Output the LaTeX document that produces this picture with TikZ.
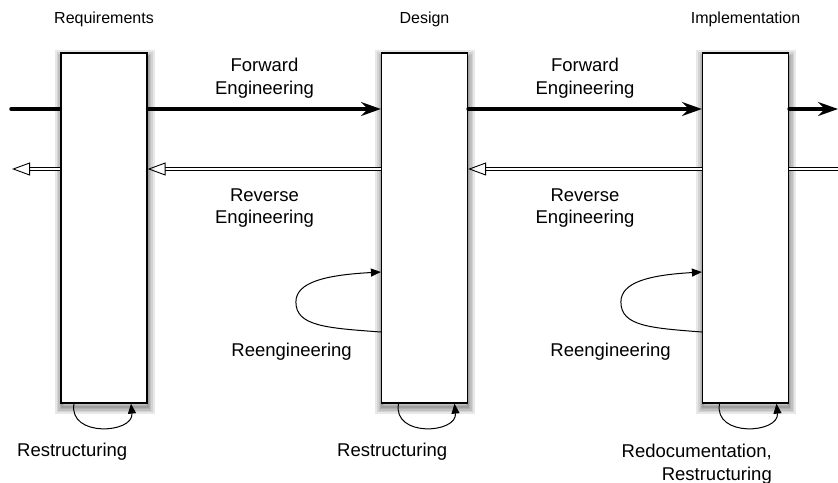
\documentclass[tikz,border=0pt]{standalone}
\usepackage{fontspec}
\setmainfont{Liberation Sans}
\usetikzlibrary{arrows.meta}

\begin{document}
\begin{tikzpicture}
	[x=1pt, y=-1pt,
	 every node/.style={inner sep=0pt,font=\fontsize{18.5}{22.7}\selectfont},
	 softshadow/.style={preaction={draw=black,line width=#1,opacity=0.09,transform canvas={xshift=0.5pt,yshift=-4pt}}},
	 phase/.style={draw,rectangle,fill=white,line width=1.2pt,minimum width=86pt,minimum height=350pt,
	   softshadow=14pt,softshadow=10pt,softshadow=7pt,softshadow=4pt,softshadow=2pt},
	 phasename/.style={anchor=base,font=\fontsize{16}{19}\selectfont},
	 fwdline/.style={line width=3.5pt,line cap=round,-{Stealth[length=20pt,width=14pt,inset=7pt]}},
	 revline/.style={double,line width=0.9pt,double distance=2.6pt,-{Triangle[open,length=18pt,width=13pt]}},
	 selfarc/.style={line width=1pt,-{Triangle[length=10pt,width=8pt]}} ]

\useasboundingbox (0,0) rectangle (838,482);

\node [phase] (req) at (104,228) {};
\node [phase] (des) at (424.5,228) {};
\node [phase] (imp) at (745.5,228) {};

\node [phasename] (reqname) at (104,23.3) {Requirements};
\node [phasename] (desname) at (424.5,23.3) {Design};
\node [phasename] (impname) at (745.5,23.3) {Implementation};

\coordinate (fwdin) at (11,109);
\coordinate (fwdout) at (838,109);
\coordinate (revin) at (838,169);
\coordinate (revout) at (12,169);

\draw[fwdline,-] (fwdin) -- ([yshift=119pt]req.west);
\draw[fwdline] ([yshift=119pt]req.east) -- ([yshift=119pt]des.west);
\draw[fwdline] ([yshift=119pt]des.east) -- ([yshift=119pt]imp.west);
\draw[fwdline] ([yshift=119pt]imp.east) -- (fwdout);

\draw[revline] ([yshift=59pt]req.west) -- (revout);
\draw[revline] ([yshift=59pt]des.west) -- ([yshift=59pt]req.east);
\draw[revline] ([yshift=59pt]imp.west) -- ([yshift=59pt]des.east);
\draw[revline,-] (revin) -- ([yshift=59pt]imp.east);

\node [align=center] (fwd1) at (264.5,78) {Forward\\Engineering};
\node [align=center] (rev1) at (264.5,208) {Reverse\\Engineering};
\node [align=center] (fwd2) at (585,78) {Forward\\Engineering};
\node [align=center] (rev2) at (585,208) {Reverse\\Engineering};

% loops back into the same phase
\draw[selfarc] ([yshift=-104pt]des.west) .. controls +(-55,-4) and +(0,24) .. ++(-85,-30)
  .. controls +(0,-20) and +(-55,3) .. ([yshift=-44pt]des.west);
\draw[selfarc] ([yshift=-104pt]imp.west) .. controls +(-52,-4) and +(0,24) .. ++(-81,-30)
  .. controls +(0,-20) and +(-52,3) .. ([yshift=-44pt]imp.west);
\node [anchor=base east] (reeng1) at (352,356) {Reengineering};
\node [anchor=base east] (reeng2) at (671,356) {Reengineering};

\draw[selfarc] ([xshift=-30pt]req.south) .. controls +(-6,34) and +(3,30) .. ([xshift=27pt]req.south);
\draw[selfarc] ([xshift=-26pt]des.south) .. controls +(-6,34) and +(3,30) .. ([xshift=30pt]des.south);
\draw[selfarc] ([xshift=-26pt]imp.south) .. controls +(-6,34) and +(3,30) .. ([xshift=31pt]imp.south);

\node [anchor=base west] (restr1) at (17,456.7) {Restructuring};
\node [anchor=base west] (restr2) at (337,456.7) {Restructuring};
\node [anchor=north east,align=right] (redoc) at (772,444) {Redocumentation,\\Restructuring};

\end{tikzpicture}
\end{document}
